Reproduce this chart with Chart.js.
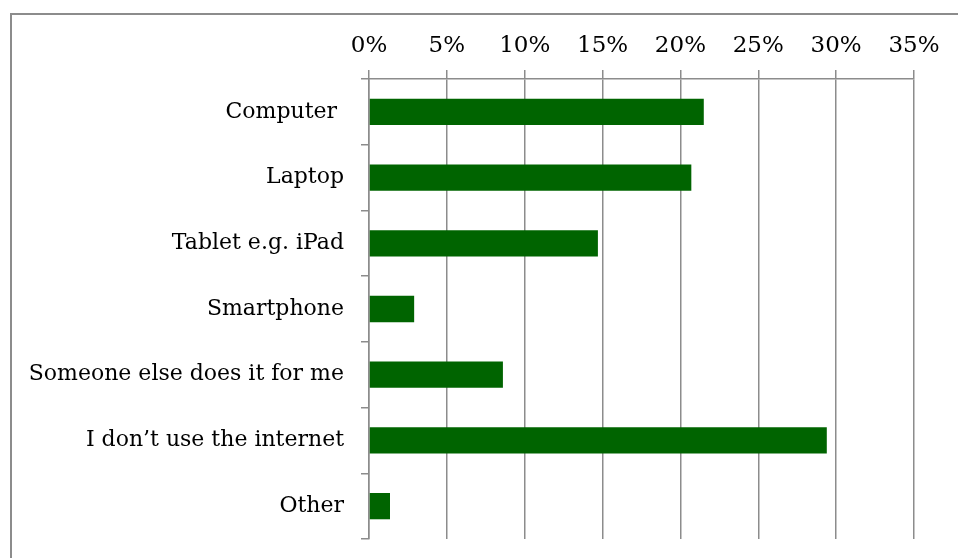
<!DOCTYPE html>
<html>
<head>
<meta charset="utf-8">
<script src="https://cdn.jsdelivr.net/npm/chart.js@4/dist/chart.umd.min.js"></script>
<style>
    html, body { margin: 0; padding: 0; background: #fff; overflow: hidden; }
    #frame {
        position: absolute; left: 10px; top: 13px;
        width: 1000px; height: 600px;
        border: 2px solid #8c8c8c; box-sizing: border-box;
    }
    #wrap { position: absolute; left: 0; top: 0; width: 958px; height: 558px; }
</style>
</head>
<body>
<div id="frame"></div>
<div id="wrap"><canvas id="chart" width="958" height="558"></canvas></div>
<script>
// values (percent)
const categories = ["Computer ", "Laptop", "Tablet e.g. iPad", "Smartphone",
                    "Someone else does it for me", "I don\u2019t use the internet", "Other"];
const shares = [21.5, 20.7, 14.7, 2.9, 8.6, 29.4, 1.35];
const tickValues = [0, 5, 10, 15, 20, 25, 30, 35];

const gridGray = "#8c8c8c";
const serif = "'DejaVu Serif', 'Liberation Serif', serif";

new Chart(document.getElementById("chart").getContext("2d"), {
    type: "bar",
    data: {
        labels: categories,
        datasets: [{
            data: shares,
            backgroundColor: "#006400",
            borderWidth: 0,
            barPercentage: 0.4,
            categoryPercentage: 1
        }]
    },
    options: {
        indexAxis: "y",
        responsive: false,
        animation: false,
        layout: { padding: { left: 0, right: 44, top: 0, bottom: 19 } },
        plugins: { legend: { display: false }, tooltip: { enabled: false } },
        scales: {
            x: {
                position: "top",
                min: 0,
                max: 35,
                afterBuildTicks: scale => { scale.ticks = tickValues.map(v => ({ value: v })); },
                afterFit: scale => { scale.height = 79; },
                ticks: {
                    color: "#000",
                    font: { family: serif, size: 23 },
                    padding: 10,
                    maxRotation: 0,
                    callback: v => v + "%"
                },
                grid: { color: gridGray, lineWidth: 1.5, tickLength: 9 },
                border: { color: gridGray, width: 1.5 }
            },
            y: {
                afterFit: scale => {
                    scale.width = 369;
                    scale.paddingTop = 0;
                    scale.paddingBottom = 0;
                },
                ticks: { color: "#000", font: { family: serif, size: 22 }, padding: 17 },
                grid: { drawOnChartArea: false, color: gridGray, lineWidth: 1.5, tickLength: 8 },
                border: { color: gridGray, width: 1.5 }
            }
        }
    }
});
</script>
</body>
</html>
